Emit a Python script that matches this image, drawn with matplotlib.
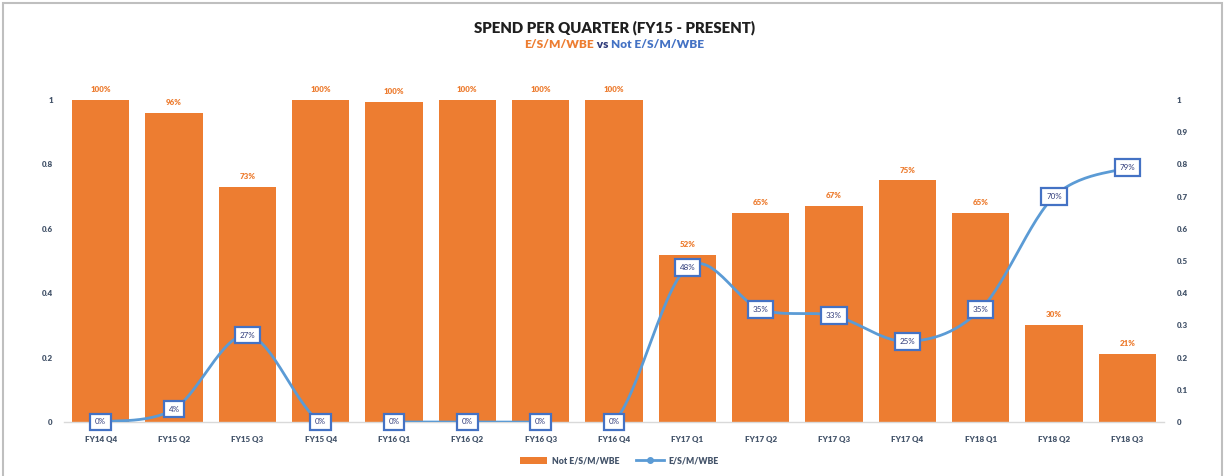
import numpy as np
import matplotlib
matplotlib.use("Agg")
import matplotlib.pyplot as plt
from matplotlib.patches import Rectangle
from matplotlib.lines import Line2D
from matplotlib.patches import Patch

categories = ["FY14 Q4", "FY15 Q2", "FY15 Q3", "FY15 Q4", "FY16 Q1", "FY16 Q2", "FY16 Q3",
              "FY16 Q4", "FY17 Q1", "FY17 Q2", "FY17 Q3", "FY17 Q4", "FY18 Q1", "FY18 Q2", "FY18 Q3"]
not_eswbe = [1.00, 0.96, 0.73, 1.00, 0.995, 1.00, 1.00, 1.00, 0.52, 0.65, 0.67, 0.75, 0.65, 0.30, 0.21]
not_labels = ["100%", "96%", "73%", "100%", "100%", "100%", "100%", "100%", "52%", "65%", "67%", "75%", "65%", "30%", "21%"]
eswbe = [0.00, 0.04, 0.27, 0.00, 0.00, 0.00, 0.00, 0.00, 0.48, 0.35, 0.33, 0.25, 0.35, 0.70, 0.79]
eswbe_labels = ["0%", "4%", "27%", "0%", "0%", "0%", "0%", "0%", "48%", "35%", "33%", "25%", "35%", "70%", "79%"]
left_ticks = [0, 0.2, 0.4, 0.6, 0.8, 1]
right_ticks = [0, 0.1, 0.2, 0.3, 0.4, 0.5, 0.6, 0.7, 0.8, 0.9, 1]

ORANGE = "#ED7D31"
LINEBLUE = "#5B9BD5"
BOXBLUE = "#4472C4"
TXT = "#44546A"
FONT = ["Lato", "DejaVu Sans"]
plt.rcParams['font.family'] = FONT

W, H = 1227, 476
fig = plt.figure(figsize=(W / 100, H / 100), dpi=100)

# outer chart frame
fig.patches.append(Rectangle((3 / W, -0.01), (1222 - 3) / W, 1 - 3 / H + 0.01, transform=fig.transFigure,
                             fill=False, edgecolor="#BFBFBF", linewidth=1.5))

ax = fig.add_axes([64 / W, 1 - 422 / H, (1164 - 64) / W, (422 - 100) / H])
ax2 = ax.twinx()

x = np.arange(len(categories))
ax.bar(x, not_eswbe, width=0.78, color=ORANGE, zorder=2)
ax.set_xlim(-0.5, len(categories) - 0.5)
ax.set_ylim(0, 1)
ax2.set_ylim(0, 1)

for xi, v, lab in zip(x, not_eswbe, not_labels):
    ax.annotate(lab, (xi, v), xytext=(0, 5), textcoords="offset points", ha="center", va="bottom",
                fontsize=5.8, fontweight="heavy", color=ORANGE, annotation_clip=False)

# Excel-like smoothed line (Bezier through data points)
def smooth(xs, ys, n=30):
    xs = np.asarray(xs, float); ys = np.asarray(ys, float)
    px, py = [], []
    m = len(xs)
    for i in range(m - 1):
        p0 = np.array([xs[max(i - 1, 0)], ys[max(i - 1, 0)]])
        p1 = np.array([xs[i], ys[i]])
        p2 = np.array([xs[i + 1], ys[i + 1]])
        p3 = np.array([xs[min(i + 2, m - 1)], ys[min(i + 2, m - 1)]])
        c1 = p1 + (p2 - p0) / 6.0
        c2 = p2 - (p3 - p1) / 6.0
        t = np.linspace(0, 1, n)[:, None]
        pts = (1 - t) ** 3 * p1 + 3 * (1 - t) ** 2 * t * c1 + 3 * (1 - t) * t ** 2 * c2 + t ** 3 * p2
        px.extend(pts[:, 0]); py.extend(pts[:, 1])
    return np.array(px), np.array(py)

sx, sy = smooth(x, eswbe)
ax2.plot(sx, sy, color=LINEBLUE, linewidth=2, zorder=3, clip_on=True)
ax2.plot(x, eswbe, linestyle="none", marker="o", markersize=4, color=LINEBLUE, zorder=3, clip_on=False)
for xi, v, lab in zip(x, eswbe, eswbe_labels):
    ax2.text(xi, v, lab, ha="center", va="center", fontsize=5.8, color="#2F3B7A", zorder=5,
             bbox=dict(boxstyle="square,pad=0.6", facecolor="white", edgecolor=BOXBLUE, linewidth=1.6),
             clip_on=False)

for a in (ax, ax2):
    for s in a.spines.values():
        s.set_visible(False)
ax.spines["bottom"].set_visible(True)
ax.spines["bottom"].set_color("#D9D9D9")
ax.spines["bottom"].set_linewidth(1)

ax.set_xticks(x)
ax.set_xticklabels(categories, fontsize=5.8, fontweight="heavy", color=TXT)
ax.tick_params(axis="x", length=0, pad=10)
ax.set_yticks(left_ticks)
ax.set_yticklabels([f"{t:g}" for t in left_ticks], fontsize=5.8, fontweight="heavy", color=TXT)
ax.tick_params(axis="y", length=0, pad=8)
ax2.set_yticks(right_ticks)
ax2.set_yticklabels([f"{t:g}" for t in right_ticks], fontsize=5.8, fontweight="heavy", color=TXT)
ax2.tick_params(axis="y", length=0, pad=9)

# title
fig.text(614 / W, 1 - 28 / H, "SPEND PER QUARTER (FY15 - PRESENT)", ha="center", va="center",
         fontsize=10.8, fontweight="heavy", color="#1F1F1F")

# multi-coloured subtitle
parts = [("E/S/M/WBE", ORANGE), (" vs ", "#2F3B7A"), ("Not E/S/M/WBE", BOXBLUE)]
fig.canvas.draw()
r = fig.canvas.get_renderer()
tmp = []
total = 0
for s, c in parts:
    t = fig.text(0, 0, s, fontsize=8.6, fontweight="heavy", color=c)
    w = t.get_window_extent(r).width
    tmp.append((t, w)); total += w
cx = 614
xstart = cx - total / 2
for t, w in tmp:
    t.set_position((xstart / W, 1 - 45 / H))
    t.set_va("center")
    xstart += w

# legend
handles = [Patch(facecolor=ORANGE, edgecolor="none", label="Not E/S/M/WBE"),
           Line2D([0], [0], color=LINEBLUE, linewidth=2, marker="o", markersize=4, label="E/S/M/WBE")]
fig.legend(handles=handles, loc="center", bbox_to_anchor=(619 / W, 1 - 461 / H), ncol=2, frameon=False,
           prop={"size": 6.2, "weight": "heavy"}, labelcolor=TXT, handlelength=3.2, handleheight=1.0,
           columnspacing=2.0, handletextpad=0.5)

fig.savefig("out.png", dpi=100)
